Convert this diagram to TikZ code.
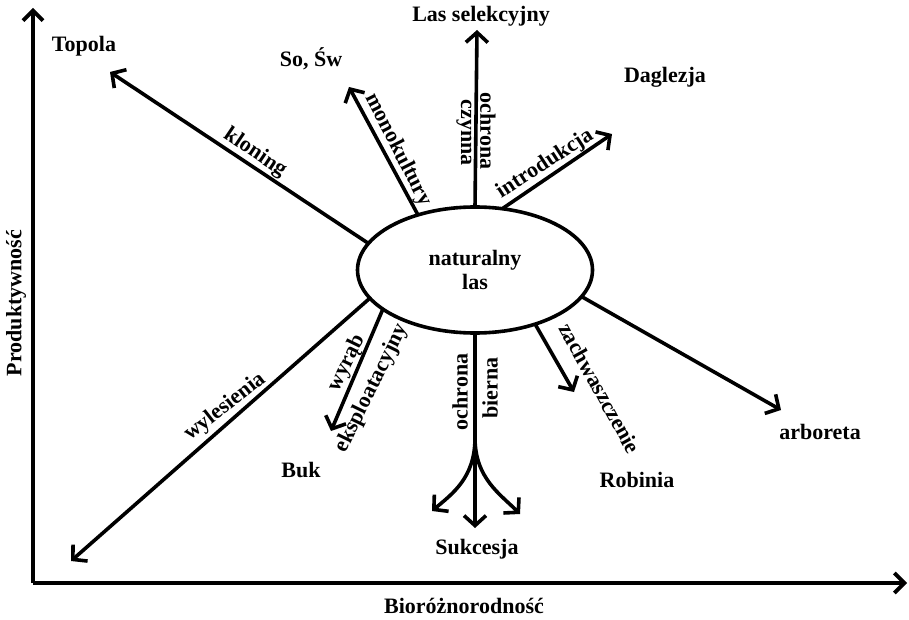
\documentclass[tikz,border=0pt]{standalone}
\usepackage{fontspec}
\setmainfont{Liberation Serif}
\usetikzlibrary{arrows.meta,shapes.geometric}
\begin{document}
\begin{tikzpicture}[x=1pt,y=-1pt,
  txt/.style={font=\bfseries\fontsize{22}{24}\selectfont, inner sep=0pt, outer sep=0pt},
  ln/.style={line width=3.6pt},
  arr/.style={ln, -{Straight Barb[length=10pt,width=22pt]}},
  axis/.style={line width=3.8pt, -{Straight Barb[length=10pt,width=20pt]}}]
\useasboundingbox (0,0) rectangle (909,620);

% axes
\coordinate (O) at (33,583);
\coordinate (ytop) at (33,8);
\coordinate (xend) at (907,583);
\draw[axis] (O) -- (ytop);
\draw[axis] (O) -- (xend);
\node[txt, rotate=90] (ylab) at (16,303) {Produktywność};
\node[txt] (xlab) at (464,606) {Bioróżnorodność};

% central ellipse
\node[draw, ellipse, ln, txt, align=center, minimum width=235pt, minimum height=126pt]
  (nl) at (475,270) {naturalny\\las};

% free ends of the arrows
\coordinate (tp) at (110,72);
\coordinate (mk) at (349,87);
\coordinate (lc) at (477,30);
\coordinate (dg) at (612,134);
\coordinate (ar) at (781,410);
\coordinate (za) at (574,392);
\coordinate (fk) at (475,438);
\coordinate (sm) at (475,528);
\coordinate (sl) at (432,511);
\coordinate (sr) at (520,514);
\coordinate (wy) at (331,431);
\coordinate (wl) at (71,561);

% arrows out of the ellipse
\draw[arr] (nl.166.7) -- (tp);
\draw[arr] (nl.136) -- (mk);
\draw[arr] (nl.90) -- (lc);
\draw[arr] (nl.66) -- (dg);
\draw[arr] (nl.-14.5) -- (ar);
\draw[arr] (nl.-42) -- (za);
\draw[arr] (nl.203.6) -- (wy);
\draw[arr] (nl.195) -- (wl);
\draw[ln] (nl.-90) -- (fk);
\draw[arr] (fk) -- (sm);
\draw[arr] (fk) .. controls (475,478) and (452,494) .. (sl);
\draw[arr] (fk) .. controls (475,478) and (500,494) .. (sr);

% arrow labels
\node[txt, rotate=-34] (lkl) at (255,153) {kloning};
\node[txt, rotate=-63] (lmo) at (398,150) {monokultury};
\node[txt, rotate=-90] (loc) at (488,131) {ochrona};
\node[txt, rotate=-90] (lcz) at (464,133) {czynna};
\node[txt, rotate=33] (lin) at (545,164) {introdukcja};
\node[txt, rotate=-61] (lza) at (600,388) {zachwaszczenie};
\node[txt, rotate=90] (lob) at (460,392) {ochrona};
\node[txt, rotate=90] (lbi) at (490,388) {bierna};
\node[txt, rotate=64] (lwr) at (347,363) {wyrąb};
\node[txt, rotate=64] (lek) at (372,388) {eksploatacyjny};
\node[txt, rotate=38] (lwl) at (225,407) {wylesienia};

% end labels
\node[txt] (topola) at (84,46) {Topola};
\node[txt] (sosw) at (311,59) {So, Św};
\node[txt] (lassel) at (481,16) {Las selekcyjny};
\node[txt] (dagl) at (665,77) {Daglezja};
\node[txt] (arb) at (820,432) {arboreta};
\node[txt] (rob) at (637,480) {Robinia};
\node[txt] (suk) at (477,549) {Sukcesja};
\node[txt] (buk) at (301,470) {Buk};
\end{tikzpicture}
\end{document}
